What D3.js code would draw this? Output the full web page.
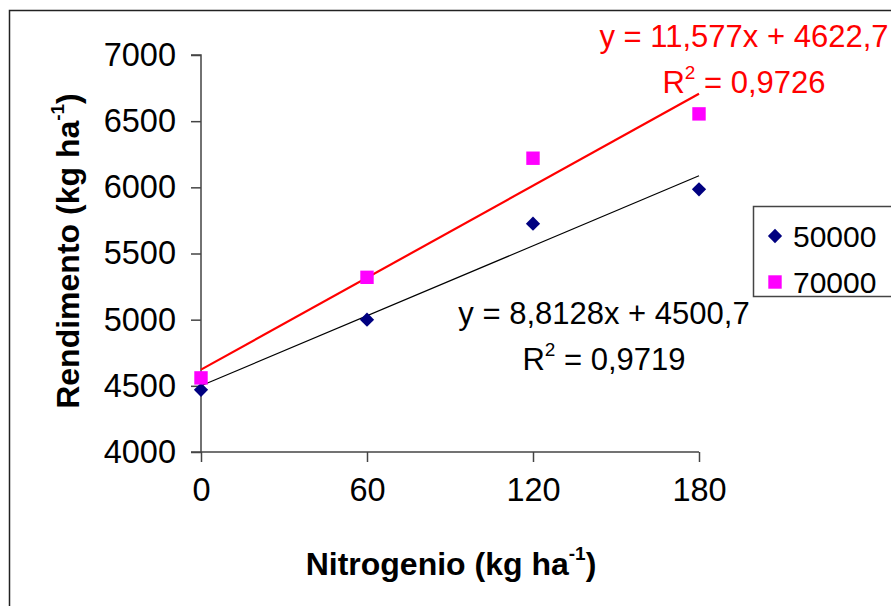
<!DOCTYPE html>
<html lang="en">
<head>
  <meta charset="UTF-8">
  <title>Rendimento</title>
  <style>
    body { margin: 0; background: #fff; }
    text { font-family: "Liberation Sans", Arial, sans-serif; }
  </style>
</head>
<body>
    <script src="https://cdn.jsdelivr.net/npm/d3@7"></script>
    <script>
      const width = 891
      const height = 606

      // data
      const nitrogen = [0, 60, 120, 180]
      const series = ["50000", "70000"]
      const yield50 = [4470, 5000, 5725, 5985]
      const yield70 = [4560, 5320, 6220, 6555]
      const slopes = [8.8128, 11.577]
      const intercepts = [4500.7, 4622.7]
      const eqLabels = ["y = 8,8128x + 4500,7", "y = 11,577x + 4622,7"]
      const r2Labels = ["0,9719", "0,9726"]
      const xTicks = [0, 60, 120, 180]
      const yTicks = [4000, 4500, 5000, 5500, 6000, 6500, 7000]

      const svg = d3.select("body")
        .append("svg")
        .attr("width", width)
        .attr("height", height)

      // outer chart frame
      svg.append("rect")
        .attr("x", 9.5).attr("y", 10.5)
        .attr("width", 900).attr("height", 620)
        .attr("fill", "none").attr("stroke", "#222").attr("stroke-width", 1.5)

      const x = d3.scaleLinear().domain([0, 180]).range([201, 699])
      const y = d3.scaleLinear().domain([4000, 7000]).range([452, 55])

      const yAxis = svg.append("g")
        .attr("transform", "translate(" + x(0) + ",0)")
        .call(d3.axisLeft(y).tickValues(yTicks).tickFormat(d3.format("d")).tickSize(10).tickPadding(15))
      const xAxis = svg.append("g")
        .attr("transform", "translate(0," + y(4000) + ")")
        .call(d3.axisBottom(x).tickValues(xTicks).tickFormat(d3.format("d")).tickSize(10).tickPadding(16))

      ;[xAxis, yAxis].forEach(g => {
        g.select(".domain").attr("stroke", "#444").attr("stroke-width", 1.5)
        g.selectAll(".tick line").attr("stroke", "#444").attr("stroke-width", 1.5)
        g.selectAll(".tick text")
          .attr("fill", "#000")
          .style("font-size", "32.5px")
          .style("font-family", "'Liberation Sans', Arial, sans-serif")
      })
      // extend x axis to left tick
      xAxis.select(".domain").attr("d", "M" + (x(0) - 10) + ",0H" + x(180))
      yAxis.select(".domain").attr("d", "M0," + y(4000) + "V" + y(7000) + "H-10")

      const colors = ["#000080", "#ff00ff"]
      const lineColors = ["#000", "#ff0000"]
      const lineWidths = [1.2, 2.2]

      // trend lines
      slopes.forEach((m, i) => {
        svg.append("line")
          .attr("x1", x(0)).attr("y1", y(intercepts[i]))
          .attr("x2", x(180)).attr("y2", y(intercepts[i] + m * 180))
          .attr("stroke", lineColors[i]).attr("stroke-width", lineWidths[i])
      })

      const diamond = d3.symbol().type(d3.symbolDiamond2).size(130)
      const square = d3.symbol().type(d3.symbolSquare).size(180)

      svg.append("g").selectAll("path")
        .data(nitrogen.map((n, i) => [n, yield50[i]]))
        .enter().append("path")
        .attr("d", diamond)
        .attr("transform", d => "translate(" + x(d[0]) + "," + y(d[1]) + ")")
        .attr("fill", colors[0])

      svg.append("g").selectAll("path")
        .data(nitrogen.map((n, i) => [n, yield70[i]]))
        .enter().append("path")
        .attr("d", square)
        .attr("transform", d => "translate(" + x(d[0]) + "," + y(d[1]) + ")")
        .attr("fill", colors[1])

      // equation labels
      const eqPos = [[604, 324, 370], [744, 47, 93]]
      const eqColor = ["#000", "#ff0000"]
      eqLabels.forEach((t, i) => {
        svg.append("text")
          .attr("x", eqPos[i][0]).attr("y", eqPos[i][1])
          .attr("text-anchor", "middle")
          .attr("fill", eqColor[i])
          .style("font-size", "31px")
          .text(t)
        const r = svg.append("text")
          .attr("x", eqPos[i][0]).attr("y", eqPos[i][2])
          .attr("text-anchor", "middle")
          .attr("fill", eqColor[i])
          .style("font-size", "31px")
        r.append("tspan").text("R")
        r.append("tspan").attr("dy", -14).style("font-size", "19px").text("2")
        r.append("tspan").attr("dy", 14).text(" = " + r2Labels[i])
      })

      // axis titles
      const xt = svg.append("text")
        .attr("x", 451).attr("y", 575)
        .attr("text-anchor", "middle")
        .style("font-size", "32px").style("font-weight", "bold")
      xt.append("tspan").text("Nitrogenio (kg ha")
      xt.append("tspan").attr("dy", -15).style("font-size", "19px").text("-1")
      xt.append("tspan").attr("dy", 15).text(")")

      const yt = svg.append("text")
        .attr("transform", "translate(79,251) rotate(-90)")
        .attr("text-anchor", "middle")
        .style("font-size", "32px").style("font-weight", "bold")
      yt.append("tspan").text("Rendimento (kg ha")
      yt.append("tspan").attr("dy", -15).style("font-size", "19px").text("-1")
      yt.append("tspan").attr("dy", 15).text(")")

      // legend
      const lg = svg.append("g")
      lg.append("rect")
        .attr("x", 753.5).attr("y", 206.5)
        .attr("width", 200).attr("height", 90)
        .attr("fill", "#fff").attr("stroke", "#444").attr("stroke-width", 1.5)
      const legendShapes = [diamond, square]
      series.forEach((s, i) => {
        const cy = 236 + i * 46
        lg.append("path")
          .attr("d", legendShapes[i])
          .attr("transform", "translate(775," + cy + ")")
          .attr("fill", colors[i])
        lg.append("text")
          .attr("x", 793).attr("y", cy + 11)
          .style("font-size", "30px")
          .text(s)
      })
    </script>
</body>
</html>
